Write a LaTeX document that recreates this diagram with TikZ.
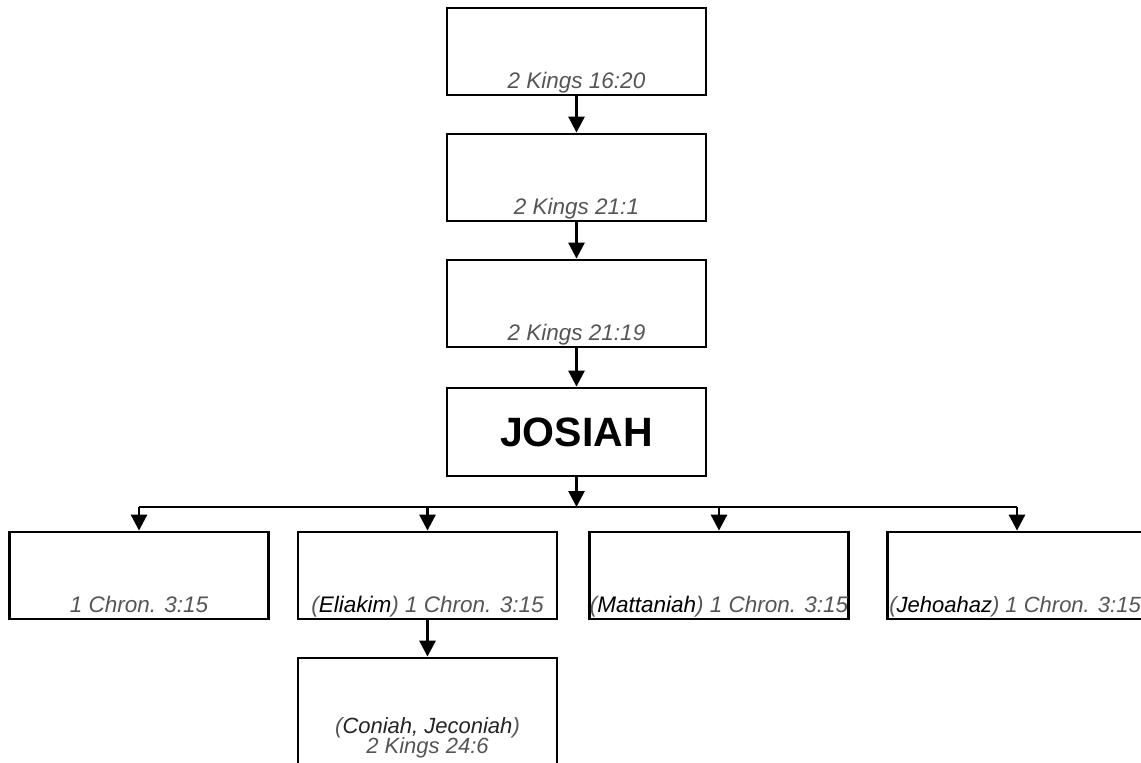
\documentclass[tikz,border=0pt]{standalone}
\usepackage{fontspec}
\setmainfont{Liberation Sans}
\usetikzlibrary{arrows.meta,calc}
\definecolor{refgray}{RGB}{85,85,85}
\definecolor{namegray}{RGB}{35,35,35}
\tikzset{
  box/.style={draw=black, line width=2.8pt, minimum width=259pt, minimum height=87pt, inner sep=0pt},
  ref/.style={text=refgray, font=\fontsize{22.5}{15}\selectfont\itshape, inner sep=0pt},
  conn/.style={line width=2.8pt},
  arr/.style={line width=2.8pt, -{Triangle[width=16pt,length=16pt]}},
}
\newcommand{\nm}[1]{\textcolor{black}{#1}}
\begin{document}
\begin{tikzpicture}[x=1pt,y=-1pt]
\useasboundingbox (0,0) rectangle (1141,763);
% top column
\node[box] (b1) at (576.5,51.5) {};
\node[box] (b2) at (576.5,177.5) {};
\node[box] (b3) at (576.5,303.5) {};
\node[box, minimum height=88pt, font=\fontsize{41}{41}\selectfont\bfseries] (jo) at (576.5,432) {JOSIAH};
\node[ref, anchor=base] (t1) at ([yshift=8pt]b1.south) {2 Kings 16:20};
\node[ref, anchor=base] (t2) at ([yshift=8pt]b2.south) {2 Kings 21:1};
\node[ref, anchor=base] (t3) at ([yshift=8pt]b3.south) {2 Kings 21:19};
% children row
\node[box] (ca) at (139,575.5) {};
\node[box] (cb) at (427.5,575.5) {};
\node[box] (cc) at (719,575.5) {};
\node[box] (cd) at (1017,575.5) {};
\node[ref, anchor=base] (ta) at ([yshift=8pt]ca.south) {1 Chron. 3:15};
\node[ref, anchor=base] (tb) at ([yshift=8pt]cb.south) {(\nm{Eliakim}) 1 Chron. 3:15};
\node[ref, anchor=base] (tc) at ([yshift=8pt]cc.south) {(\nm{Mattaniah}) 1 Chron. 3:15};
\node[ref, anchor=base west, font=\fontsize{22}{15}\selectfont\itshape] (td) at ([xshift=3pt,yshift=8pt]cd.south west) {(\nm{Jehoahaz}) 1 Chron. 3:15};
% grandchild
\node[box, minimum height=112pt] (ce) at (427.5,714) {};
\node[ref, anchor=base, font=\fontsize{22}{15}\selectfont\itshape] (te1) at ([yshift=-77pt]ce.north) {(\textcolor{namegray}{Coniah, Jeconiah})};
\node[ref, anchor=base, font=\fontsize{22}{15}\selectfont\itshape] (te2) at ([yshift=-97pt]ce.north) {2 Kings 24:6};
% bus
\coordinate (bus) at (576.5,507);
% connectors
\draw[arr] (b1.south) -- (b2.north);
\draw[arr] (b2.south) -- (b3.north);
\draw[arr] (b3.south) -- (jo.north);
\draw[arr] (jo.south) -- (bus);
\draw[conn] (ca.north |- bus) -- (cd.north |- bus);
\draw[arr] (ca.north |- bus) -- (ca.north);
\draw[arr] (cb.north |- bus) -- (cb.north);
\draw[arr] (cc.north |- bus) -- (cc.north);
\draw[arr] (cd.north |- bus) -- (cd.north);
\draw[arr] (cb.south) -- (ce.north);
\end{tikzpicture}
\end{document}
